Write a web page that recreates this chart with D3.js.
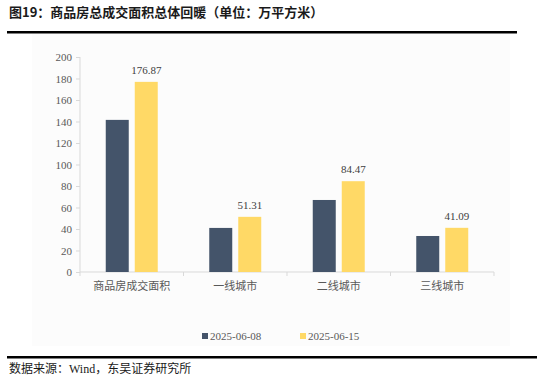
<!DOCTYPE html>
<html>
<head>
<meta charset="utf-8">
<script src="https://cdn.jsdelivr.net/npm/d3@7"></script>
<style>
  body { margin: 0; background: #fff; }
  text { font-family: "Liberation Serif", "Noto Sans CJK SC", serif; }
</style>
</head>
<body>
<div class="container"></div>
<script>
// chart data
var categories = ['商品房成交面积', '一线城市', '二线城市', '三线城市']
var seriesNames = ['2025-06-08', '2025-06-15']
var week1 = [141.5, 41.0, 67.0, 33.5]
var week2 = [176.87, 51.31, 84.47, 41.09]
var yTicks = [0, 20, 40, 60, 80, 100, 120, 140, 160, 180, 200]

var colors = ['#44546A', '#FFD966']
var opts = { width: 543, height: 379, left: 80, right: 494, top: 57, bottom: 272 }

var svg = d3.select('.container').append('svg')
    .attr('width', opts.width)
    .attr('height', opts.height)

// faint chart area background
svg.append('rect').attr('x', 32).attr('y', 34).attr('width', 478).attr('height', 312).attr('fill', '#fcfcfc')

// title + rules
svg.append('text').attr('x', 9).attr('y', 17)
    .style('font-size', '13px').style('font-weight', 'bold')
    .style('font-family', '"Noto Sans CJK SC", sans-serif')
    .attr('fill', '#1a1a1a')
    .text('图19：商品房总成交面积总体回暖（单位：万平方米）')
svg.append('rect').attr('x', 7).attr('y', 31).attr('width', 510).attr('height', 2.5).attr('fill', '#000')
svg.append('rect').attr('x', 7).attr('y', 356).attr('width', 530).attr('height', 2.5).attr('fill', '#000')
svg.append('text').attr('x', 9).attr('y', 373)
    .style('font-size', '12px').attr('fill', '#1a1a1a')
    .text('数据来源：Wind，东吴证券研究所')

var x = d3.scaleBand().domain(categories).range([opts.left, opts.right])
var y = d3.scaleLinear().domain([0, 200]).range([opts.bottom, opts.top])

// y axis
var yAxis = svg.append('g').attr('transform', 'translate(' + opts.left + ',0)')
    .call(d3.axisLeft(y).tickValues(yTicks).tickSize(4).tickPadding(4))
yAxis.selectAll('line, path').attr('stroke', '#d9d9d9')
yAxis.select('.domain').attr('d', 'M0,' + opts.top + 'V' + opts.bottom)
yAxis.selectAll('text').attr('fill', '#595959').style('font-size', '11px')
    .style('font-family', '"Liberation Serif", serif')

// x axis
var xAxis = svg.append('g').attr('transform', 'translate(0,' + opts.bottom + ')')
xAxis.append('line').attr('x1', opts.left).attr('x2', opts.right).attr('stroke', '#d9d9d9')
xAxis.selectAll('.tk').data(d3.range(categories.length + 1)).enter().append('line')
    .attr('x1', function (d) { return opts.left + d * x.step() })
    .attr('x2', function (d) { return opts.left + d * x.step() })
    .attr('y1', 0).attr('y2', 4).attr('stroke', '#d9d9d9')
xAxis.selectAll('.lbl').data(categories).enter().append('text')
    .attr('x', function (d) { return x(d) + x.bandwidth() / 2 })
    .attr('y', 18).attr('text-anchor', 'middle')
    .attr('fill', '#595959').style('font-size', '11px')
    .style('font-family', '"Noto Sans CJK SC", sans-serif')
    .text(function (d) { return d })

// bars
var barW = 23, gap = 6
var series = [week1, week2]
series.forEach(function (vals, s) {
  svg.selectAll('.bar' + s).data(categories).enter().append('rect')
    .attr('x', function (d) { return x(d) + x.bandwidth() / 2 - barW - gap / 2 + s * (barW + gap) })
    .attr('y', function (d, i) { return y(vals[i]) })
    .attr('width', barW)
    .attr('height', function (d, i) { return opts.bottom - y(vals[i]) })
    .attr('fill', colors[s])
})

// labels on second series
svg.selectAll('.val').data(categories).enter().append('text')
    .attr('x', function (d) { return x(d) + x.bandwidth() / 2 + gap / 2 + barW / 2 })
    .attr('y', function (d, i) { return y(week2[i]) - 8 })
    .attr('text-anchor', 'middle').attr('fill', '#404040').style('font-size', '11px')
    .text(function (d, i) { return week2[i].toFixed(2) })

// legend
var legendX = [202, 300]
seriesNames.forEach(function (n, i) {
  svg.append('rect').attr('x', legendX[i]).attr('y', 333).attr('width', 6).attr('height', 6).attr('fill', colors[i])
  svg.append('text').attr('x', legendX[i] + 8).attr('y', 340)
      .attr('fill', '#595959').style('font-size', '11px').text(n)
})
</script>
</body>
</html>
